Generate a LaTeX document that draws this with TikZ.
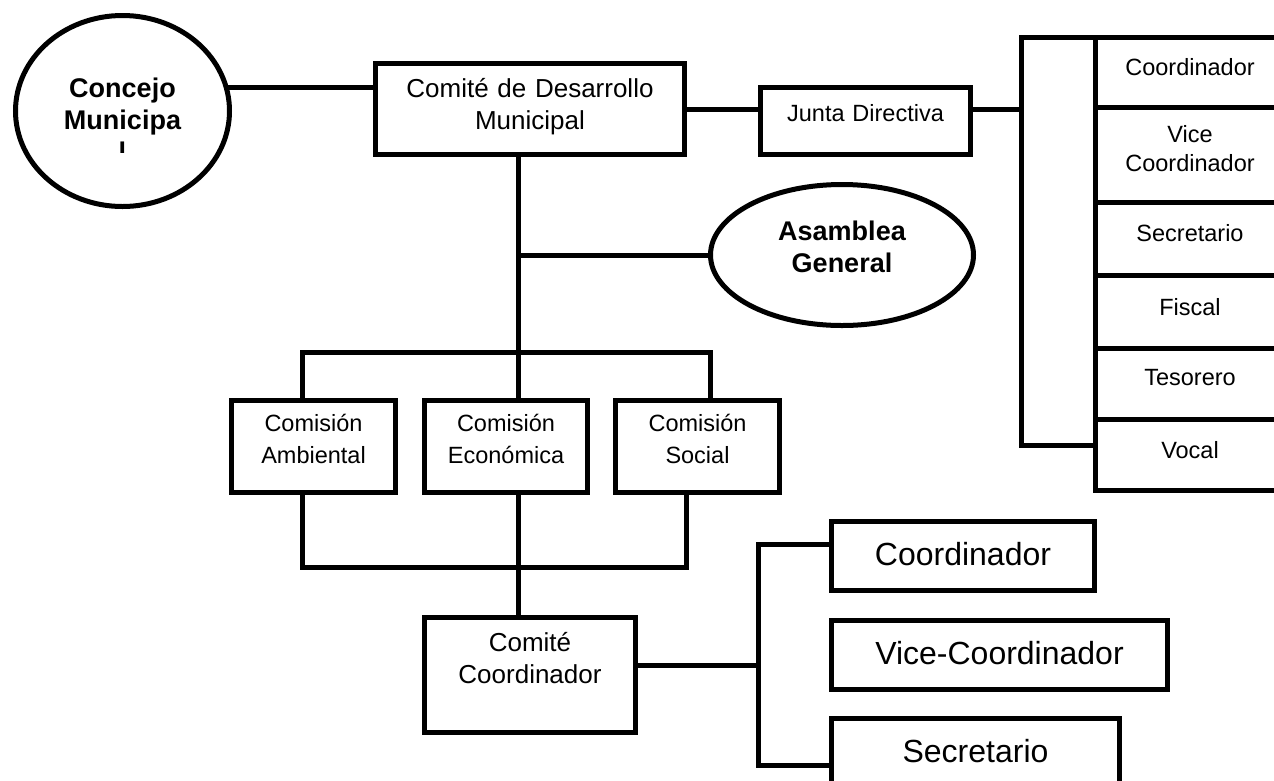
\documentclass[tikz,border=0pt]{standalone}
\usepackage{fontspec}
\setmainfont{Liberation Sans}
\usepackage{tikz}
\usetikzlibrary{positioning, shapes.geometric, calc}

\begin{document}
\begin{tikzpicture}[x=1pt, y=-1pt,
  box/.style={draw, line width=5pt, inner sep=0pt, outer sep=0pt, align=center},
  oval/.style={draw, ellipse, line width=5pt, inner sep=0pt, outer sep=0pt, align=center},
  link/.style={line width=5pt},
  comite/.style={font=\fontsize{26}{32}\selectfont},
  normal/.style={font=\fontsize{23.5}{32}\selectfont},
  column/.style={font=\fontsize{23.5}{29}\selectfont},
  large/.style={font=\fontsize{32}{38}\selectfont},
  heavy/.style={font=\bfseries\fontsize{27}{32}\selectfont},
  cell/.style={box, column, text width=190pt},
  comision/.style={box, normal, text height=30.5pt, text depth=61.5pt},
  member/.style={box, large, text height=43.5pt, text depth=25.5pt}]
\useasboundingbox (0,0) rectangle (1274,780);
\clip (0,0) rectangle (1274,780);

\node (CM) [oval, minimum width=214pt, minimum height=191pt] at (122.5,111) {};
\begin{scope}
\clip (0,0) rectangle (300,152);
\node (CMtext) [heavy, text width=214pt, align=center, anchor=base] at (122.5,97) {Concejo\\Municipa\\l};
\end{scope}

\node (CDM) [box, comite, text width=309pt, text height=33.5pt, text depth=57.5pt, anchor=north west] at (375.5,63.5) {Comité de Desarrollo\\Municipal};
\node (JD) [box, normal, text width=210pt, text height=33.5pt, text depth=33.5pt, anchor=north west] at (760.5,87.5) {Junta Directiva};

\node (JDbar) [box, minimum width=73.5pt, minimum height=408pt, anchor=north west] at (1021.5,37) {};
\node (R1) [cell, text height=38pt, text depth=32.5pt, anchor=north west] at (JDbar.north east) {Coordinador};
\node (R2) [cell, text height=35pt, text depth=60pt, below=0pt of R1] {Vice\\Coordinador};
\node (R3) [cell, text height=38.5pt, text depth=34.5pt, below=0pt of R2] {Secretario};
\node (R4) [cell, text height=39.5pt, text depth=33.5pt, below=0pt of R3] {Fiscal};
\node (R5) [cell, text height=36.5pt, text depth=34.5pt, below=0pt of R4] {Tesorero};
\node (R6) [cell, text height=38.5pt, text depth=32.5pt, below=0pt of R5] {Vocal};

\node (AG) [oval, heavy, minimum width=263pt, minimum height=141pt, text width=180pt, text height=20pt, text depth=50pt] at (842,255) {Asamblea\\General};

\node (CA) [comision, text width=164pt, anchor=north west] at (231.5,400.5) {Comisión\\Ambiental};
\node (CE) [comision, text width=163pt, right=29pt of CA] {Comisión\\Económica};
\node (CS) [comision, text width=164pt, right=28pt of CE] {Comisión\\Social};

\node (CC) [box, comite, text width=211pt, text height=33.5pt, text depth=81.5pt, anchor=north west] at (424.5,617.5) {Comité\\Coordinador};

\node (LC) [member, text width=263pt, anchor=north west] at (831.5,521.5) {Coordinador};
\node (LV) [member, text width=336pt, below=30pt of LC.south west, anchor=north west] {Vice-Coordinador};
\node (LS) [member, text width=288pt, below=29pt of LV.south west, anchor=north west] {Secretario};

\coordinate (spine) at (518,352);
\coordinate (lowbar) at (518,567);
\coordinate (fork) at (758,665);

\draw[link] (CM.13) -- (CM.13 -| CDM.west);
\draw[link] (CDM.east) -- (CDM.east -| JD.west);
\draw[link] (JD.east |- CDM.east) -- (JDbar.west |- CDM.east);
\draw[link] ([xshift=-12pt]CDM.south) -- ([xshift=12pt]CE.north);
\draw[link] (AG.west) -- (AG.west -| spine);
\draw[link] ([xshift=-11.5pt]CA.north) |- (spine) -| ([xshift=12.5pt]CS.north);
\draw[link] ([xshift=-11.5pt]CA.south) |- (lowbar) -| ([xshift=-11.5pt]CS.south);
\draw[link] ([xshift=12pt]CE.south) -- ([xshift=-12pt]CC.north);
\draw[link] (CC.east |- fork) -- (fork);
\draw[link] ([yshift=12pt]LC.west) -| (fork) |- ([yshift=-12pt]LS.west);
\end{tikzpicture}
\end{document}
